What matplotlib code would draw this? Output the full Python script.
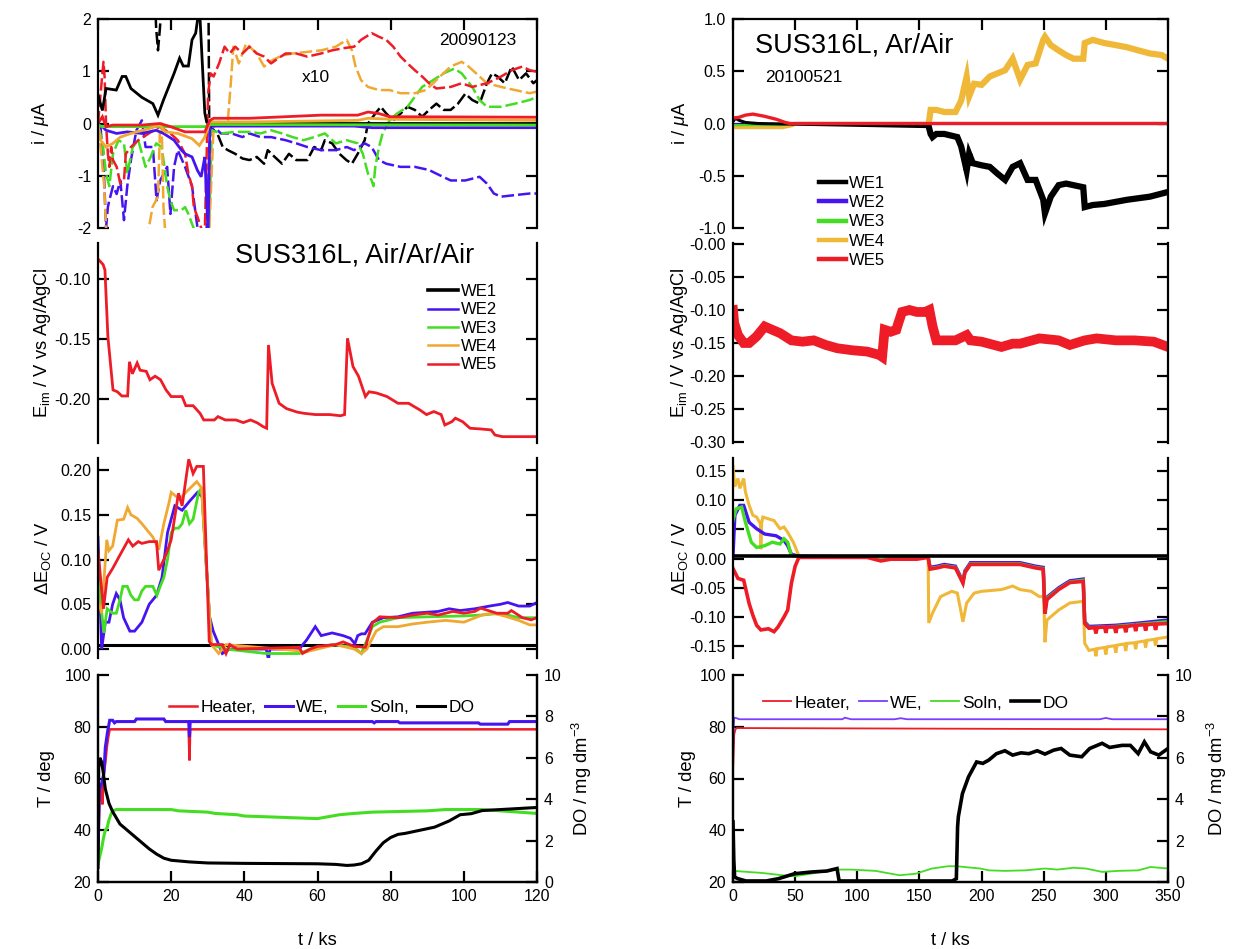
import numpy as np
import matplotlib
matplotlib.use("Agg")
import matplotlib.pyplot as plt
from matplotlib.lines import Line2D
from matplotlib.ticker import FormatStrFormatter

plt.rcParams['font.family'] = ['Liberation Sans', 'DejaVu Sans']
plt.rcParams['axes.unicode_minus'] = False
plt.rcParams['mathtext.fontset'] = 'custom'
plt.rcParams['mathtext.rm'] = 'Liberation Sans'
plt.rcParams['mathtext.it'] = 'Liberation Sans:italic'
plt.rcParams['mathtext.default'] = 'regular'

# ---------------- colours ----------------
C_BLK = '#000000'
C_BLU = '#4614f0'
C_GRN = '#44dd22'
C_ORG = '#f0a832'
C_ORG2 = '#f0b838'
C_RED = '#ee1c26'
C_PUR = '#7a3cff'

# ======================= Air/Ar/Air run (0-120 ks) =======================
# currents, solid (t [ks], i [uA])
i_we1_a = np.array([(0, 0.55), (1.2, 0.25), (2.2, 0.67), (5, 0.64), (6.6, 0.9), (7.6, 0.9), (9, 0.67),
                    (12, 0.5), (15, 0.38), (16.4, 0.16), (17.9, 0.45), (20.8, 0.96), (22.3, 1.25),
                    (23.3, 1.1), (24.7, 1.1), (25.7, 1.6), (26.7, 1.73), (27.2, 1.98), (27.9, 2.0),
                    (29.2, 0.2), (29.7, 0.03), (31, 0.0), (120, 0.0)])
i_we2_a = np.array([(0, -0.03), (1.2, -0.06), (2.2, -0.13), (5.1, -0.19), (8, -0.16), (12, -0.19),
                    (15.9, -0.13), (17.9, -0.19), (20.8, -0.32), (22.8, -0.51), (23.8, -0.58),
                    (25.7, -0.64), (27.2, -0.9), (28.2, -1.02), (28.7, -0.83), (29.2, -0.64),
                    (30.1, -2.1), (30.6, -0.03), (31.6, -0.05), (70, -0.05), (75, -0.08), (120, -0.08)])
i_we3_a = np.array([(0, -0.03), (1.2, -0.06), (29.2, -0.06), (30.6, -0.02), (120, -0.03)])
i_we4_a = np.array([(0, -0.03), (0.7, -0.32), (2.2, -0.45), (4.1, -0.38), (6.1, -0.26), (9, -0.19),
                    (13.9, -0.1), (16.9, -0.03), (18.4, -0.16), (21.8, -0.19), (25.7, -0.29),
                    (27.7, -0.42), (29.2, -0.26), (30.6, 0.03), (41.4, 0.03), (71, 0.06),
                    (73.8, 0.1), (80.7, 0.08), (120, 0.06)])
i_we5_a = np.array([(0, 0.0), (1.2, 0.13), (2.2, -0.06), (4.1, -0.03), (12, -0.03), (16.9, 0.0),
                    (19.8, -0.06), (23.8, -0.16), (27.7, -0.16), (29.2, -0.16), (30.6, 0.06),
                    (31.6, 0.1), (41.4, 0.1), (51.3, 0.13), (61, 0.16), (71, 0.16), (73.8, 0.22),
                    (76.8, 0.19), (79.7, 0.13), (120, 0.12)])

# currents x10, dashed
i10_we1_a = np.array([(0, 2.5), (15.5, 2.5), (15.9, 1.82), (16.4, 1.4), (16.9, 1.8), (17.4, 2.3),
                      (30.2, 2.3), (30.4, 0.0), (30.6, -0.06), (32.6, -0.19), (34.1, -0.45),
                      (35.5, -0.51), (37.5, -0.58), (39.5, -0.67), (41.4, -0.7), (43.4, -0.64),
                      (45.4, -0.77), (46.4, -0.51), (48.3, -0.64), (50.3, -0.77), (52.2, -0.58),
                      (54.2, -0.7), (57.2, -0.7), (59.1, -0.45), (61, -0.51), (62, -0.32),
                      (64, -0.38), (66, -0.58), (67.9, -0.7), (69.4, -0.77), (71, -0.58),
                      (72.9, -0.32), (73.8, 0.0), (75.8, 0.19), (77.3, 0.32), (78.8, 0.19),
                      (80.7, 0.06), (82.7, 0.19), (84.6, 0.32), (86.6, 0.26), (88.6, 0.13),
                      (90.5, 0.26), (92.5, 0.38), (94.5, 0.26), (96.4, 0.26), (98.4, 0.38),
                      (100.4, 0.57), (102.3, 0.45), (104.3, 0.38), (106.3, 0.77), (107.7, 0.96),
                      (109.2, 0.9), (111.2, 0.77), (113.1, 1.09), (115.1, 0.83), (117, 0.96),
                      (119, 0.77), (120, 0.83)])
i10_we2_a = np.array([(0.7, -0.06), (1.7, -1.09), (2.2, -2.0), (2.7, -1.6), (3.1, -1.47), (4.1, -1.2),
                      (5.1, -1.35), (6.1, -1.09), (7.1, -1.85), (8, -1.2), (9, -0.7), (10.5, -0.13),
                      (12, 0.06), (13, -0.45), (15, -0.45), (16, -1.47), (17, -1.09), (18.9, -0.83),
                      (19.8, -1.73), (20.8, -0.83), (21.8, -0.51), (23.8, -0.83), (25.7, -1.2),
                      (27.2, -2.0), (29.5, -2.4), (30.6, -0.19), (31.6, -0.06), (33.6, -0.19),
                      (36.5, -0.19), (39.5, -0.26), (41.4, -0.19), (44.4, -0.26), (47.3, -0.26),
                      (51.3, -0.32), (54.2, -0.38), (57.2, -0.45), (61, -0.51), (65, -0.51),
                      (68, -0.45), (70, -0.51), (72.9, -0.38), (74.8, -0.45), (76.8, -0.7),
                      (78.8, -0.77), (82.7, -0.83), (86.6, -0.83), (90.5, -0.89), (92.5, -0.96),
                      (96.4, -1.09), (100.4, -1.09), (104.3, -1.02), (106.3, -1.15), (108.2, -1.34),
                      (110.2, -1.4), (114, -1.37), (118, -1.34), (120, -1.34)])
i10_we3_a = np.array([(0, -0.06), (1.2, -0.32), (2.2, -0.96), (3.1, -1.2), (4.1, -0.58), (5.6, -0.32),
                      (7.1, -0.38), (8, -0.96), (9.5, -0.45), (11, -0.32), (13, -0.83), (14.4, -0.64),
                      (15.9, -0.38), (17.4, -0.45), (18.9, -1.2), (19.8, -1.47), (20.8, -1.66),
                      (22.8, -1.66), (23.8, -1.6), (24.7, -1.73), (25.7, -1.92), (26.7, -2.1),
                      (30.2, -2.4), (31.1, -0.13), (33.6, -0.19), (37.5, -0.16), (41.4, -0.16),
                      (44.4, -0.19), (47.3, -0.13), (50.3, -0.19), (53.2, -0.26), (56.2, -0.32),
                      (59.1, -0.26), (62, -0.19), (65, -0.38), (68, -0.32), (71, -0.38),
                      (72.4, -0.58), (73.8, -0.96), (74.8, -1.09), (75.3, -1.2), (75.8, -0.83),
                      (76.8, -0.45), (77.8, -0.19), (79.7, 0.06), (81.7, 0.19), (84.6, 0.32),
                      (86.6, 0.51), (88.6, 0.7), (91.6, 0.83), (94.5, 0.96), (97.4, 1.05),
                      (99.4, 0.96), (102.3, 0.7), (104.3, 0.45), (106.3, 0.32), (110.2, 0.32),
                      (114, 0.38), (118, 0.45), (120, 0.51)])
i10_we4_a = np.array([(0, -0.06), (0.7, -0.45), (1.7, -1.2), (2.2, -2.0), (8, -2.6), (13.9, -2.0),
                      (14.9, -1.6), (16.4, -1.4), (16.9, -0.19), (17.4, 0.0), (17.9, -1.6),
                      (18.4, -2.1), (30.2, -2.4), (31.6, -0.06), (35.5, 0.06), (36.3, 0.77),
                      (37, 1.47), (38.5, 1.15), (40.5, 1.53), (43.4, 1.34), (45.4, 1.09),
                      (47.3, 1.2), (50.3, 1.3), (53.2, 1.34), (57.2, 1.37), (61, 1.4), (65, 1.47),
                      (68, 1.6), (69.4, 1.4), (70.4, 1.09), (71.9, 0.83), (73.8, 0.7), (76.8, 0.64),
                      (79.7, 0.64), (82.7, 0.58), (86.6, 0.58), (89.6, 0.64), (91.6, 0.77),
                      (93.5, 0.9), (96.4, 1.09), (99.4, 1.18), (101.3, 1.09), (104.3, 0.9),
                      (106.3, 0.77), (110.2, 0.7), (114, 0.64), (118, 0.58), (120, 0.61)])
i10_we5_a = np.array([(0, 0.0), (1.2, 0.96), (1.5, 1.18), (1.8, 0.9), (2.2, 0.0), (2.7, -0.58),
                      (3.1, -0.83), (3.6, -0.45), (4.1, -0.7), (5.1, -0.83), (6.1, -1.15),
                      (7.1, -1.09), (7.6, -0.58), (9, -0.45), (11, -0.32), (13.9, -0.19),
                      (16.9, -0.06), (19.8, -0.19), (21.8, -0.32), (23.8, -0.58), (24.7, -0.96),
                      (25.7, -1.2), (26.2, -1.6), (27.2, -1.79), (28.2, -2.0), (29.2, -2.1),
                      (30.1, 0.57), (30.8, 0.96), (31.6, 0.9), (33.1, 1.15), (34.6, 1.47),
                      (36, 1.34), (37.5, 1.47), (39.5, 1.34), (41.4, 1.47), (43.4, 1.34),
                      (45.4, 1.28), (47.3, 1.15), (49.3, 1.25), (51.3, 1.34), (54.2, 1.34),
                      (57.2, 1.28), (61, 1.34), (64, 1.4), (67, 1.44), (70, 1.47), (71.9, 1.6),
                      (74.8, 1.73), (76.8, 1.66), (78.8, 1.6), (80.7, 1.47), (82.7, 1.28),
                      (84.6, 1.15), (86.6, 1.02), (88.6, 0.9), (90.5, 0.77), (92.5, 0.67),
                      (96.4, 0.7), (99.4, 0.77), (102.3, 0.7), (106.3, 0.77), (108.2, 0.83),
                      (110.2, 0.9), (113.1, 1.02), (116, 1.09), (118, 1.02), (120, 0.99)])

# mixed potential of WE5 (V vs Ag/AgCl)
eim_a = np.array([(0, -0.0833), (1.4, -0.088), (1.9, -0.0925), (2.7, -0.148), (4.1, -0.1925),
                  (5.3, -0.194), (6.5, -0.1975), (8.1, -0.1975), (8.6, -0.169), (9.4, -0.179),
                  (10.7, -0.170), (11.5, -0.176), (13.2, -0.177), (14.2, -0.184), (15.6, -0.181),
                  (17.1, -0.184), (18.6, -0.1925), (20, -0.198), (23, -0.198), (24, -0.2056),
                  (26, -0.2056), (27.9, -0.212), (28.9, -0.2175), (31.8, -0.2175), (32.8, -0.2147),
                  (34.8, -0.2175), (37.7, -0.2175), (39.7, -0.2197), (41.7, -0.2175), (43.6, -0.22),
                  (45.1, -0.223), (46.1, -0.2244), (46.6, -0.155), (47.6, -0.187), (49.5, -0.2036),
                  (51.5, -0.208), (54.5, -0.211), (56.4, -0.212), (59.4, -0.213), (63.3, -0.213),
                  (66.3, -0.214), (67.4, -0.213), (68.2, -0.1494), (69.7, -0.173), (71.2, -0.181),
                  (73.1, -0.198), (74.1, -0.194), (76.1, -0.195), (79, -0.198), (82, -0.2036),
                  (84.9, -0.2036), (87.9, -0.209), (89.8, -0.213), (91.8, -0.2105), (93.8, -0.213),
                  (94.8, -0.2217), (96.7, -0.219), (97.7, -0.216), (99.7, -0.219), (101.7, -0.2244),
                  (104.6, -0.225), (107.5, -0.2258), (108.5, -0.23), (110.5, -0.2314), (120, -0.2314)])

# open-circuit potential differences (V)
deoc_we1_a = np.array([(0, 0.005), (120, 0.005)])
deoc_we2_a = np.array([(0, 0.125), (1, 0.0), (2, 0.03), (3, 0.03), (4, 0.05), (5, 0.062), (6, 0.055),
                       (7, 0.035), (8.7, 0.02), (10, 0.02), (12, 0.03), (14, 0.05), (16, 0.06),
                       (17.5, 0.08), (19, 0.13), (21, 0.16), (23, 0.155), (24, 0.16), (25, 0.165),
                       (27.2, 0.175), (28.5, 0.17), (29.5, 0.10), (30.5, 0.036), (31.5, 0.02),
                       (33, 0.005), (34, -0.005), (36, 0.0), (46, 0.0), (46.6, -0.012), (47, 0.0),
                       (55, 0.0), (57, 0.01), (59.4, 0.025), (61, 0.015), (64, 0.018), (67, 0.015),
                       (69, 0.012), (70.2, 0.006), (71, 0.015), (72, 0.017), (73, 0.017), (75, 0.03),
                       (78, 0.035), (82, 0.036), (86, 0.04), (93, 0.042), (96, 0.045), (99, 0.043),
                       (103, 0.045), (107, 0.048), (110, 0.05), (112, 0.052), (115, 0.048),
                       (118, 0.048), (120, 0.052)])
deoc_we3_a = np.array([(0, 0.08), (1.6, 0.018), (2.5, 0.045), (4, 0.04), (5, 0.04), (6, 0.055),
                       (6.8, 0.07), (8, 0.07), (9, 0.06), (10, 0.055), (11, 0.055), (12, 0.065),
                       (13, 0.07), (15, 0.07), (16.1, 0.06), (17, 0.07), (18, 0.08), (19, 0.10),
                       (20, 0.13), (21, 0.135), (22, 0.135), (23, 0.14), (24, 0.155), (25, 0.14),
                       (26, 0.145), (27.5, 0.175), (28.3, 0.18), (29.5, 0.10), (31, 0.005), (35, 0.0),
                       (46, -0.005), (55, -0.005), (58, 0.0), (64, 0.005), (70, 0.002), (72, -0.005),
                       (73, 0.005), (75, 0.025), (77, 0.03), (82, 0.035), (90, 0.036), (100, 0.037),
                       (105, 0.038), (110, 0.04), (115, 0.035), (120, 0.035)])
deoc_we4_a = np.array([(0, 0.053), (1, 0.04), (2.4, 0.122), (3, 0.11), (4, 0.115), (5.3, 0.144),
                       (7, 0.145), (8.1, 0.158), (9, 0.15), (10.7, 0.146), (12, 0.14), (13, 0.135),
                       (14, 0.13), (15, 0.125), (16.6, 0.111), (18, 0.14), (19.5, 0.165), (20, 0.175),
                       (21.5, 0.17), (23, 0.17), (24, 0.175), (27, 0.187), (28.3, 0.18), (29.5, 0.10),
                       (31, 0.005), (33, -0.005), (35, 0.005), (55, -0.002), (56, -0.004), (60, 0.0),
                       (65, 0.005), (70, 0.0), (72, -0.005), (73.5, 0.0), (76, 0.02), (78, 0.025),
                       (82, 0.025), (86, 0.028), (90, 0.03), (95, 0.032), (100, 0.03), (105, 0.038),
                       (108, 0.04), (111, 0.037), (115, 0.032), (118, 0.027), (120, 0.027)])
deoc_we5_a = np.array([(0, 0.11), (1.5, 0.045), (2.5, 0.08), (4, 0.09), (6, 0.105), (8.3, 0.122),
                       (9.5, 0.115), (11, 0.12), (12, 0.118), (14, 0.12), (16, 0.12), (16.6, 0.088),
                       (18, 0.10), (19, 0.11), (20, 0.122), (22, 0.174), (23, 0.16), (24.8, 0.212),
                       (26, 0.196), (27, 0.204), (28.8, 0.204), (30.4, 0.0086), (31, 0.005),
                       (34, 0.005), (35, -0.005), (36, 0.005), (38, 0.0), (55, 0.002), (55.9, -0.005),
                       (58, 0.0), (60, 0.003), (65, 0.005), (67, 0.008), (70, 0.003), (73.1, 0.002),
                       (75, 0.029), (77, 0.036), (82, 0.035), (86, 0.038), (90, 0.04), (93, 0.038),
                       (97, 0.042), (100, 0.04), (103, 0.042), (104.6, 0.0457), (109, 0.04),
                       (112, 0.04), (113, 0.043), (116, 0.035), (118.4, 0.0327), (120, 0.035)])

# temperatures (deg) and dissolved oxygen (mg dm-3)
heater_a = np.array([(0, 30), (0.4, 52), (0.8, 58), (1.2, 50), (1.6, 62), (2.0, 66), (2.4, 72),
                     (2.8, 76), (3.2, 79), (24.8, 79), (25.0, 67), (25.2, 79), (120, 79)])
twe_a = np.array([(0, 30), (0.4, 56), (1.0, 58), (1.6, 62), (2.0, 72), (2.6, 78), (3.2, 82.5),
                  (4, 82.5), (4.5, 81.5), (5, 82), (10, 82), (10.5, 83), (18, 83), (18.5, 82),
                  (24.8, 82), (25, 76), (25.2, 82), (75, 82), (75.5, 81.5), (76, 82), (82, 82),
                  (82.5, 81.5), (104, 81.5), (104.5, 81), (112, 81), (112.5, 82), (120, 82)])
soln_a = np.array([(0, 27), (0.5, 30), (1, 33), (1.5, 37), (2, 40), (2.5, 41), (3, 44), (3.5, 46),
                   (4, 47.5), (5, 48), (20, 48), (22, 47.5), (30, 47), (32, 46.5), (38, 46),
                   (40, 45.5), (50, 45), (60, 44.5), (62, 45), (66, 46), (70, 46.5), (75, 47),
                   (90, 47.5), (95, 48), (105, 48), (110, 47.5), (115, 47), (120, 46.5)])
do_a = np.array([(0, 0.7), (0.2, 5.5), (0.5, 6.0), (1, 5.8), (1.5, 5.2), (2, 4.5), (3, 3.8), (4, 3.4),
                 (5, 3.1), (6, 2.8), (8, 2.5), (10, 2.2), (12, 1.9), (14, 1.6), (16, 1.35),
                 (18, 1.15), (20, 1.05), (25, 0.97), (30, 0.92), (40, 0.9), (50, 0.89), (60, 0.88),
                 (65, 0.85), (68, 0.8), (70, 0.82), (72, 0.88), (74, 1.05), (76, 1.5), (78, 1.9),
                 (80, 2.15), (82, 2.3), (84, 2.35), (88, 2.5), (92, 2.65), (96, 2.95), (99, 3.25),
                 (102, 3.3), (105, 3.45), (110, 3.5), (115, 3.55), (120, 3.6)])

# ======================= Ar/Air run (0-350 ks) =======================
i_we1_b = np.array([(0, 0.02), (2, 0.05), (5, 0.03), (10, 0.01), (20, 0.0), (157.5, -0.03),
                    (159, -0.1), (160.5, -0.13), (163.6, -0.1), (170, -0.1), (180.5, -0.13),
                    (183.6, -0.22), (188, -0.45), (190, -0.29), (193, -0.38), (200, -0.4),
                    (206.6, -0.415), (212.8, -0.48), (219, -0.54), (225, -0.415), (231, -0.38),
                    (237, -0.54), (243.5, -0.54), (249.6, -0.73), (251, -0.86), (255.7, -0.70),
                    (262, -0.59), (268, -0.575), (281.8, -0.61), (283, -0.8), (289.5, -0.78),
                    (298.7, -0.77), (317, -0.73), (335.5, -0.70), (350, -0.655)])
i_we2_b = np.array([(0, -0.01), (20, -0.02), (45, -0.01), (50, 0.0), (350, 0.0)])
i_we3_b = np.array([(0, -0.02), (20, -0.02), (45, -0.02), (50, 0.0), (350, 0.0)])
i_we4_b = np.array([(0, -0.04), (20, -0.04), (40, -0.04), (48, -0.02), (50, 0.0), (157.5, 0.0),
                    (159, 0.13), (163.6, 0.13), (170, 0.11), (179, 0.11), (183.6, 0.22), (188, 0.45),
                    (190, 0.26), (194, 0.38), (200, 0.37), (206.6, 0.45), (212.8, 0.48), (219, 0.51),
                    (225, 0.62), (231, 0.42), (237, 0.56), (243.5, 0.575), (249.6, 0.8), (251, 0.83),
                    (255.7, 0.75), (261.9, 0.7), (268, 0.655), (274, 0.62), (281.8, 0.62), (283, 0.77),
                    (289.5, 0.8), (298.7, 0.77), (308, 0.75), (317, 0.73), (326, 0.70), (335.5, 0.67),
                    (345, 0.655), (350, 0.62)])
i_we5_b = np.array([(0, 0.05), (5, 0.06), (10, 0.08), (16, 0.09), (25, 0.07), (35, 0.04),
                    (42, 0.01), (46, 0.0), (350, 0.0)])

eim_b = np.array([(0, -0.1), (1, -0.12), (4, -0.138), (8.6, -0.15), (13, -0.15), (19, -0.14),
                  (25.5, -0.125), (31.6, -0.13), (37.8, -0.135), (47, -0.146), (56, -0.148),
                  (65, -0.146), (74.6, -0.153), (84, -0.158), (96, -0.161), (108, -0.163),
                  (117.6, -0.168), (120, -0.171), (122, -0.13), (126.8, -0.133), (131.4, -0.13),
                  (133, -0.12), (136, -0.103), (142, -0.1), (148, -0.103), (154.5, -0.103),
                  (158, -0.1), (160.6, -0.125), (163.6, -0.146), (170, -0.146), (179, -0.146),
                  (188, -0.138), (191, -0.146), (200, -0.148), (216, -0.156), (225, -0.151),
                  (231, -0.151), (246.5, -0.143), (262, -0.146), (271, -0.153), (283, -0.146),
                  (292.6, -0.143), (308, -0.146), (323, -0.146), (338.6, -0.148), (350, -0.156)])

deoc_we1_b = np.array([(0, 0.005), (350, 0.005)])
deoc_we2_b = np.array([(0, 0.005), (1.5, 0.074), (5.5, 0.091), (8.6, 0.091), (13, 0.062), (19, 0.051),
                       (25.5, 0.042), (34.7, 0.039), (41, 0.031), (44, 0.022), (47, 0.0075), (53, 0.004),
                       (100, 0.003), (157, 0.003), (158.6, -0.015), (164, -0.013), (170, -0.01),
                       (179, -0.013), (185, -0.039), (186.6, -0.021), (191, -0.007), (200, -0.007),
                       (216, -0.007), (231, -0.007), (243.5, -0.013), (249.6, -0.015), (251, -0.09),
                       (252.6, -0.066), (262, -0.05), (271, -0.038), (281.8, -0.035), (283, -0.108),
                       (286.4, -0.116), (308, -0.114), (323, -0.111), (350, -0.105)])
deoc_we3_b = np.array([(0, 0.065), (2.5, 0.085), (7, 0.088), (10, 0.062), (14.7, 0.028), (19, 0.019),
                       (25.5, 0.022), (31.6, 0.028), (37.8, 0.025), (41, 0.034), (44, 0.028),
                       (47, 0.005), (55, 0.0035), (100, 0.003), (157, 0.003), (158.6, -0.017),
                       (164, -0.015), (170, -0.012), (179, -0.015), (185, -0.041), (186.6, -0.023),
                       (191, -0.009), (200, -0.009), (216, -0.009), (231, -0.009), (243.5, -0.015),
                       (249.6, -0.017), (251, -0.092), (252.6, -0.068), (262, -0.052), (271, -0.04),
                       (281.8, -0.037), (283, -0.11), (286.4, -0.118), (308, -0.116), (323, -0.113),
                       (350, -0.108)])
deoc_we4_b = np.array([(0, 0.1575), (1.5, 0.123), (4, 0.137), (5.5, 0.12), (8.6, 0.137), (10, 0.114),
                       (13, 0.091), (16, 0.074), (19, 0.071), (22, 0.06), (22.4, 0.016), (23, 0.06),
                       (24, 0.071), (28.5, 0.068), (33, 0.065), (37.8, 0.051), (41, 0.054), (44, 0.045),
                       (48.5, 0.028), (53, 0.005), (56, 0.003), (100, 0.003), (157, 0.003),
                       (157.5, -0.11), (160.6, -0.093), (167, -0.065), (176, -0.056), (180.5, -0.059),
                       (185, -0.108), (188, -0.076), (194, -0.059), (200, -0.056), (216, -0.053),
                       (225, -0.047), (231, -0.053), (240, -0.056), (246.5, -0.065), (250, -0.065),
                       (251, -0.143), (252.6, -0.105), (262, -0.088), (271, -0.076), (281.8, -0.073),
                       (283, -0.145), (286.4, -0.157), (291, -0.155), (292, -0.167), (293, -0.154),
                       (299, -0.152), (300, -0.164), (301, -0.151), (307, -0.149), (308, -0.161),
                       (309, -0.148), (315, -0.146), (316, -0.158), (317, -0.145), (323, -0.144),
                       (324, -0.155), (325, -0.143), (331, -0.141), (332, -0.152), (333, -0.140),
                       (339, -0.138), (340, -0.149), (341, -0.137), (350, -0.134)])
deoc_we5_b = np.array([(0, -0.017), (4, -0.034), (8.6, -0.037), (13, -0.077), (16, -0.097), (19, -0.114),
                       (22.4, -0.122), (28.5, -0.12), (33, -0.125), (36.2, -0.117), (41, -0.1),
                       (44, -0.088), (47, -0.042), (50, -0.013), (53, 0.002), (56, 0.002), (108, 0.002),
                       (119, -0.004), (127, -0.001), (148, -0.001), (157, 0.002), (158.6, -0.018),
                       (164, -0.016), (170, -0.013), (179, -0.016), (185, -0.042), (186.6, -0.024),
                       (191, -0.01), (200, -0.01), (216, -0.01), (231, -0.01), (243.5, -0.016),
                       (249.6, -0.018), (251, -0.094), (252.6, -0.07), (262, -0.053), (271, -0.041),
                       (281.8, -0.039), (283, -0.111), (286.4, -0.119), (291, -0.118), (292, -0.128),
                       (293, -0.118), (299, -0.117), (300, -0.127), (301, -0.117), (307, -0.117),
                       (308, -0.127), (309, -0.117), (315, -0.116), (316, -0.126), (317, -0.116),
                       (323, -0.114), (324, -0.124), (325, -0.114), (331, -0.113), (332, -0.123),
                       (333, -0.113), (339, -0.112), (340, -0.122), (341, -0.112), (350, -0.111)])

heater_b = np.array([(0, 63), (0.5, 70), (1, 77), (2, 79), (3, 79.5), (350, 79)])
twe_b = np.array([(0, 70), (0.5, 80), (1, 83.5), (3, 83.3), (5, 82.9), (88, 82.9), (90, 83.5),
                  (95, 82.9), (130, 82.9), (135, 83.3), (140, 82.9), (295, 82.9), (300, 83.4),
                  (305, 82.9), (350, 82.9)])
soln_b = np.array([(0, 24.3), (23.4, 23.5), (39.7, 22.6), (49.5, 22.2), (62.5, 23.2), (82, 24.8),
                   (95, 24.8), (114.6, 24.3), (134, 22.6), (147, 23.2), (160, 25.2), (173, 26.1),
                   (179.7, 26.1), (199, 25.2), (206, 24.5), (218.8, 24.3), (235, 24.5), (251, 25.2),
                   (261, 24.8), (274, 25.5), (284, 25.2), (297, 23.9), (310, 24.3), (326, 24.5),
                   (336, 25.8), (350, 25.2)])
do_b = np.array([(0, 2.9), (0.65, 1.05), (1.3, 0.24), (3.9, 0.16), (10.4, 0.05), (26.7, 0.05),
                 (36.5, 0.16), (49.5, 0.4), (62.5, 0.48), (75.5, 0.53), (83.7, 0.65), (85.3, 0.08),
                 (87, 0.05), (176.5, 0.05), (179.7, 0.16), (180.7, 2.66), (181.3, 3.15), (184.6, 4.27),
                 (189.5, 5.08), (196, 5.8), (201, 5.73), (205.8, 5.89), (212, 6.2), (218.8, 6.34),
                 (225, 6.13), (231.8, 6.24), (238, 6.2), (244.8, 6.34), (251, 6.18), (258, 6.37),
                 (264, 6.45), (271, 6.13), (280.6, 6.05), (287, 6.45), (297, 6.7), (303, 6.5),
                 (313, 6.6), (319.7, 6.6), (326, 6.2), (331, 6.77), (336, 6.29), (342.6, 6.13),
                 (350, 6.45)])

we_labels = ['WE1', 'WE2', 'WE3', 'WE4', 'WE5']
temp_labels = ['Heater,', 'WE,', 'Soln,', 'DO']

# ---------------- layout ----------------
W, H = 1236, 949
fig = plt.figure(figsize=(W / 100, H / 100), dpi=100)


def rect(x0, x1, y0, y1):
    return [x0 / W, 1 - y1 / H, (x1 - x0) / W, (y1 - y0) / H]


COLS = {'a': (98, 537), 'b': (733, 1168)}
ROWS = [(19, 228), (243, 443), (458, 658), (675, 882)]
TICK_FS = 11.5
LAB_FS = 13.2


def make_axes(col, row):
    x0, x1 = COLS[col]
    y0, y1 = ROWS[row]
    ax = fig.add_axes(rect(x0, x1, y0, y1))
    ax.patch.set_alpha(0)
    for s in ax.spines.values():
        s.set_linewidth(1.6)
    ax.tick_params(axis='both', direction='in', length=8, width=1.6,
                   labelsize=TICK_FS, pad=5)
    ax.tick_params(axis='y', left=True, right=True)
    if row == 0:
        ax.spines['bottom'].set_visible(False)
        ax.tick_params(axis='x', top=True, bottom=False, labelbottom=False)
    elif row in (1, 2):
        ax.spines['bottom'].set_visible(False)
        ax.spines['top'].set_visible(False)
        ax.tick_params(axis='x', top=False, bottom=False, labelbottom=False)
    else:
        ax.spines['top'].set_visible(False)
        ax.tick_params(axis='x', top=False, bottom=True)
    if col == 'a':
        ax.set_xlim(0, 120)
        ax.set_xticks(np.arange(0, 121, 20))
    else:
        ax.set_xlim(0, 350)
        ax.set_xticks(np.arange(0, 351, 50))
    return ax


def line(ax, arr, color, lw=1.8, **kw):
    return ax.plot(arr[:, 0], arr[:, 1], color=color, lw=lw, solid_joinstyle='miter', **kw)


def thick_part(ax, arr, t0, color, lw):
    m = arr[:, 0] >= t0
    ax.plot(arr[m, 0], arr[m, 1], color=color, lw=lw, solid_joinstyle='miter')


def twin_do(ax):
    tw = ax.twinx()
    tw.spines['top'].set_visible(False)
    for s in tw.spines.values():
        s.set_linewidth(1.6)
    tw.set_ylim(0, 10)
    tw.set_yticks(np.arange(0, 11, 2))
    tw.tick_params(axis='y', direction='in', length=8, width=1.6, labelsize=TICK_FS, pad=5)
    tw.set_ylabel('DO / mg dm$^{-3}$', fontsize=LAB_FS)
    return tw


DASH = (0, (5, 1.6))

# ---------- column a, row 0: currents ----------
ax = make_axes('a', 0)
ax.set_ylim(-2, 2)
ax.set_yticks([-2, -1, 0, 1, 2])
for arr, c in [(i10_we1_a, C_BLK), (i10_we2_a, C_BLU), (i10_we3_a, C_GRN),
               (i10_we4_a, C_ORG), (i10_we5_a, C_RED)]:
    line(ax, arr, c, lw=1.8, linestyle=DASH)
for arr, c in [(i_we1_a, C_BLK), (i_we2_a, C_BLU), (i_we3_a, C_GRN),
               (i_we4_a, C_ORG), (i_we5_a, C_RED)]:
    line(ax, arr, c, lw=2.0)
ax.text(0.866, 0.895, '20090123', transform=ax.transAxes, fontsize=12.5,
        ha='center', va='center')
ax.text(0.497, 0.72, 'x10', transform=ax.transAxes, fontsize=12.5,
        ha='center', va='center')
ax.set_ylabel('i / $\\mathit{\\mu}$A', fontsize=LAB_FS)
ax.yaxis.set_label_coords(-0.108, 0.5)

# ---------- column a, row 1: mixed potential ----------
ax = make_axes('a', 1)
ax.set_ylim(-0.2367, -0.07)
ax.set_yticks([-0.10, -0.15, -0.20])
ax.yaxis.set_major_formatter(FormatStrFormatter('%.2f'))
line(ax, eim_a, C_RED, lw=2.0)
ax.text(0.312, 0.905, 'SUS316L, Air/Ar/Air', transform=ax.transAxes,
        fontsize=19.5, ha='left', va='baseline')
ax.set_ylabel('E$_{\\mathrm{im}}$ / V vs Ag/AgCl', fontsize=LAB_FS)
ax.yaxis.set_label_coords(-0.102, 0.5)
hands = [Line2D([], [], color=C_BLK, lw=2.6), Line2D([], [], color=C_BLU, lw=1.8),
         Line2D([], [], color=C_GRN, lw=1.8), Line2D([], [], color=C_ORG, lw=1.8),
         Line2D([], [], color=C_RED, lw=1.8)]
ax.legend(hands, we_labels, loc='upper left', bbox_to_anchor=(428 / W, 1 - 284 / H),
          bbox_transform=fig.transFigure, frameon=False, fontsize=12,
          handlelength=1.8, handletextpad=0.15, labelspacing=0.2,
          borderpad=0, borderaxespad=0)

# ---------- column a, row 2: delta E_OC ----------
ax = make_axes('a', 2)
ax.set_ylim(-0.010, 0.2134)
ax.set_yticks([0.0, 0.05, 0.10, 0.15, 0.20])
ax.yaxis.set_major_formatter(FormatStrFormatter('%.2f'))
line(ax, deoc_we1_a, C_BLK, lw=2.2)
for arr, c in [(deoc_we2_a, C_BLU), (deoc_we3_a, C_GRN), (deoc_we4_a, C_ORG), (deoc_we5_a, C_RED)]:
    line(ax, arr, c, lw=2.0)
ax.set_ylabel('$\\Delta$E$_{\\mathrm{OC}}$ / V', fontsize=LAB_FS)
ax.yaxis.set_label_coords(-0.102, 0.5)

# ---------- column a, row 3: temperatures + DO ----------
ax = make_axes('a', 3)
ax.set_ylim(20, 100)
ax.set_yticks(np.arange(20, 101, 20))
ax.tick_params(axis='y', right=False)
l1, = line(ax, heater_a, C_RED, lw=1.8)
l2, = line(ax, twe_a, C_BLU, lw=2.2)
l3, = line(ax, soln_a, C_GRN, lw=2.2)
ax.set_ylabel('T / deg', fontsize=LAB_FS)
ax.yaxis.set_label_coords(-0.098, 0.5)
ax.set_xlabel('t / ks', fontsize=LAB_FS)
ax.xaxis.set_label_coords(0.5, -0.24)
tw = twin_do(ax)
l4, = line(tw, do_a, C_BLK, lw=2.2)
tw.yaxis.set_label_coords(1.075, 0.5)
tw.legend([l1, l2, l3, l4], temp_labels, loc='center', bbox_to_anchor=(0.51, 0.845),
          ncol=4, frameon=False, fontsize=12.5, handlelength=1.6, handletextpad=0.2,
          columnspacing=0.5, borderpad=0, borderaxespad=0)

# ---------- column b, row 0: currents ----------
ax = make_axes('b', 0)
ax.set_ylim(-1, 1)
ax.set_yticks([-1.0, -0.5, 0.0, 0.5, 1.0])
ax.yaxis.set_major_formatter(FormatStrFormatter('%.1f'))
line(ax, i_we2_b, C_BLU, lw=2.2)
line(ax, i_we3_b, C_GRN, lw=2.2)
line(ax, i_we4_b, C_ORG2, lw=2.2)
thick_part(ax, i_we4_b, 157, C_ORG2, 4.5)
line(ax, i_we1_b, C_BLK, lw=2.2)
thick_part(ax, i_we1_b, 157, C_BLK, 4.5)
line(ax, i_we5_b, C_RED, lw=2.4)
ax.text(0.051, 0.842, 'SUS316L, Ar/Air', transform=ax.transAxes, fontsize=19.5,
        ha='left', va='baseline')
ax.text(0.074, 0.722, '20100521', transform=ax.transAxes, fontsize=12.5,
        ha='left', va='center')
ax.set_ylabel('i / $\\mathit{\\mu}$A', fontsize=LAB_FS)
ax.yaxis.set_label_coords(-0.097, 0.5)
hands_b = [Line2D([], [], color=c, lw=3.2) for c in (C_BLK, C_BLU, C_GRN, C_ORG2, C_RED)]
fig.legend(hands_b, we_labels, loc='upper left', bbox_to_anchor=(819 / W, 1 - 176 / H),
           frameon=False, fontsize=12, handlelength=1.6, handletextpad=0.2,
           labelspacing=0.25, borderpad=0, borderaxespad=0)

# ---------- column b, row 1: mixed potential ----------
ax = make_axes('b', 1)
ax.set_ylim(-0.3015, 0.0015)
ax.set_yticks(np.round(np.arange(-0.30, 0.001, 0.05), 2))
ax.yaxis.set_major_formatter(FormatStrFormatter('%.2f'))
line(ax, eim_b, C_RED, lw=7)
ax.set_ylabel('E$_{\\mathrm{im}}$ / V vs Ag/AgCl', fontsize=LAB_FS)
ax.yaxis.set_label_coords(-0.099, 0.5)

# ---------- column b, row 2: delta E_OC ----------
ax = make_axes('b', 2)
ax.set_ylim(-0.17, 0.172)
ax.set_yticks([-0.15, -0.10, -0.05, 0.0, 0.05, 0.10, 0.15])
ax.yaxis.set_major_formatter(FormatStrFormatter('%.2f'))
line(ax, deoc_we4_b, C_ORG2, lw=2.2)
line(ax, deoc_we2_b, C_BLU, lw=2.4)
line(ax, deoc_we3_b, C_GRN, lw=2.4)
line(ax, deoc_we5_b, C_RED, lw=2.6)
line(ax, deoc_we1_b, C_BLK, lw=2.6)
ax.set_ylabel('$\\Delta$E$_{\\mathrm{OC}}$ / V', fontsize=LAB_FS)
ax.yaxis.set_label_coords(-0.099, 0.5)

# ---------- column b, row 3: temperatures + DO ----------
ax = make_axes('b', 3)
ax.set_ylim(20, 100)
ax.set_yticks(np.arange(20, 101, 20))
ax.tick_params(axis='y', right=False)
m1, = line(ax, heater_b, C_RED, lw=1.3)
m2, = line(ax, twe_b, C_PUR, lw=1.3)
m3, = line(ax, soln_b, C_GRN, lw=1.3)
ax.set_ylabel('T / deg', fontsize=LAB_FS)
ax.yaxis.set_label_coords(-0.085, 0.5)
ax.set_xlabel('t / ks', fontsize=LAB_FS)
ax.xaxis.set_label_coords(0.5, -0.24)
tw = twin_do(ax)
m4, = line(tw, do_b, C_BLK, lw=2.6)
tw.yaxis.set_label_coords(1.085, 0.5)
tw.legend([m1, m2, m3, m4], temp_labels, loc='center', bbox_to_anchor=(0.42, 0.865),
          ncol=4, frameon=False, fontsize=12.5, handlelength=1.6, handletextpad=0.2,
          columnspacing=0.5, borderpad=0, borderaxespad=0)

fig.savefig('out.png', dpi=100)
